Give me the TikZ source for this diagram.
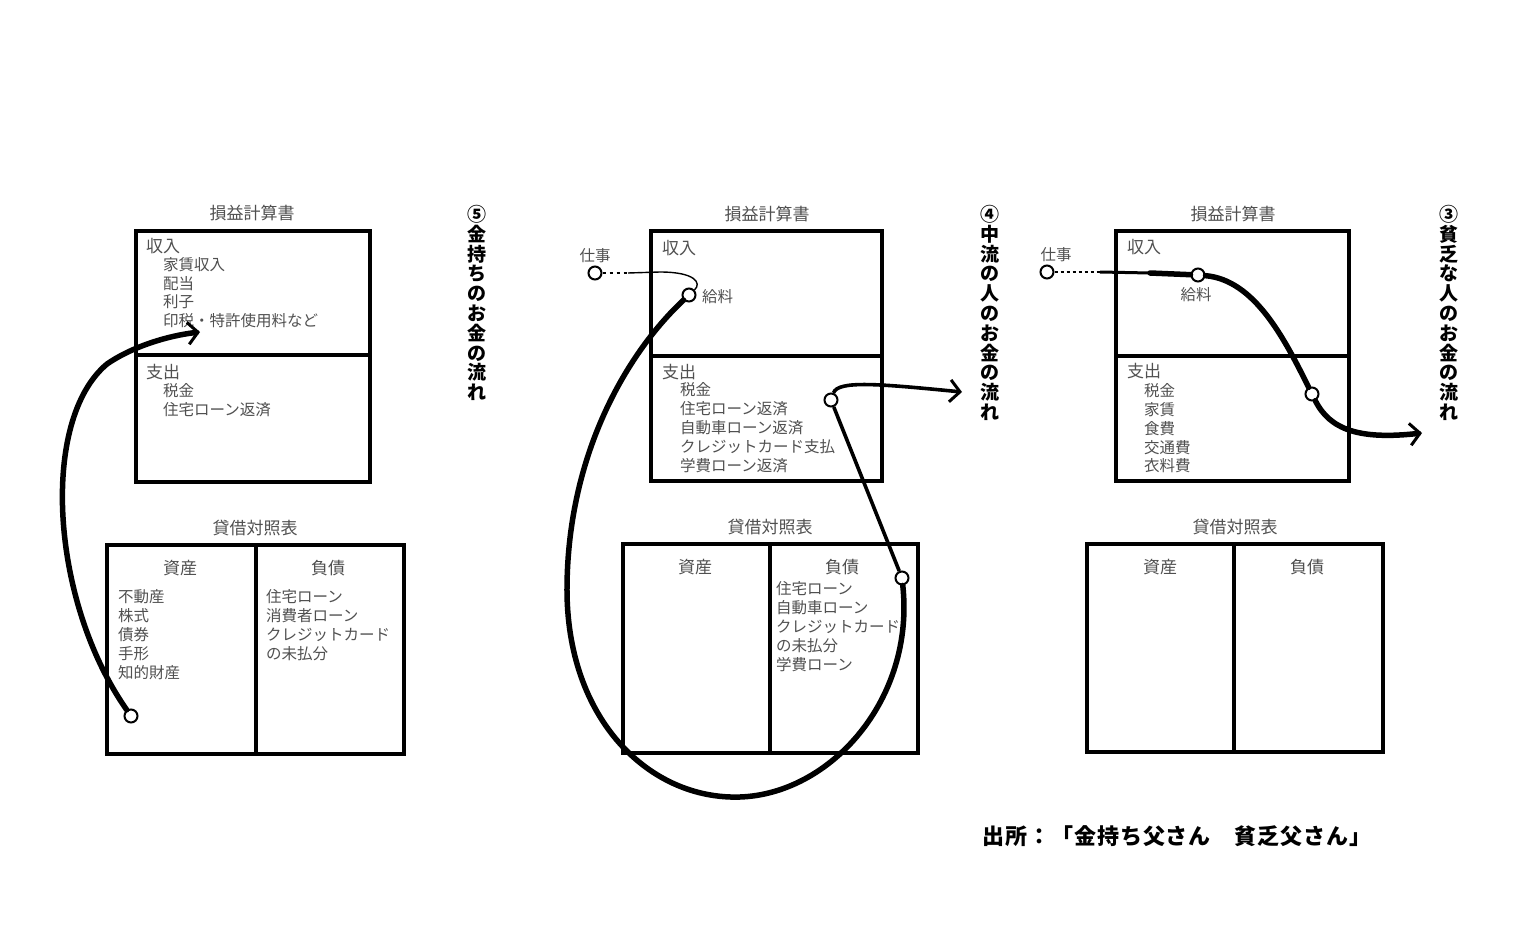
\documentclass[tikz,border=0pt]{standalone}
\usepackage{fontspec}
\setmainfont{Noto Sans CJK JP}
\newfontfamily\srcfont[LetterSpace=4]{Noto Sans CJK JP}
\usetikzlibrary{arrows.meta}
\definecolor{inkgray}{HTML}{505050}
\tikzset{
	boxline/.style={line width=3.2pt},
	item/.style={anchor=west, inner sep=0, text=inkgray, font=\fontsize{15.5}{16}\selectfont},
	cat/.style={item, font=\fontsize{17}{17}\selectfont},
	head/.style={inner sep=0, text=inkgray, font=\fontsize{17}{17}\selectfont},
	ring/.style={circle, draw, fill=white, line width=2pt, minimum size=13pt, inner sep=0},
	flow/.style={line width=5.5pt, line cap=round},
	thinflow/.style={line width=1.4pt},
	flowtip/.style={-{Straight Barb[length=10pt,width=22pt,line width=3pt]}},
	vtitle/.style={anchor=north, align=center, inner sep=0, font=\fontsize{19}{19.8}\selectfont\bfseries}
}
\begin{document}
\begin{tikzpicture}[x=1pt,y=-1pt]
		\useasboundingbox (0,0) rectangle (1535,942);
		
		% rich
		\node[head] (is5) at (252,213) {損益計算書};
		\draw[boxline] (136,231) rectangle (370,482);
		\draw[boxline] (136,355) -- (370,355);
		\node[cat] (inc5) at (146,246) {収入};
		\foreach \txt [count=\i] in {家賃収入,配当,利子,印税・特許使用料など}
			\node[item] (inc5-\i) at (163,{246+18.6*\i}) {\txt};
		\node[cat] (exp5) at (146,372) {支出};
		\foreach \txt [count=\i] in {税金,住宅ローン返済}
			\node[item] (exp5-\i) at (163,{372+19*\i}) {\txt};
		
		\node[head] (bs5) at (255,528) {貸借対照表};
		\draw[boxline] (107,545) rectangle (404,754);
		\draw[boxline] (256,545) -- (256,754);
		\node[head] (as5) at (180,568) {資産};
		\node[head] (li5) at (328,568) {負債};
		\foreach \txt [count=\i] in {不動産,株式,債券,手形,知的財産}
			\node[item] (as5-\i) at (118,{578+19*\i}) {\txt};
		\foreach \txt [count=\i] in {住宅ローン,消費者ローン,クレジットカード,の未払分}
			\node[item] (li5-\i) at (266,{578+19*\i}) {\txt};
		
		\node[vtitle] (t5) at (477,205) {⑤\\金\\持\\ち\\の\\お\\金\\の\\流\\れ};
		
		\node[ring] (a5) at (131,716) {};
		\coordinate (a5e) at (200,332);
		\draw[flow, flowtip] (a5) .. controls (50,600) and (40,420) .. (107,364) .. controls (130,348) and (165,336) .. (a5e);
		
		% middle
		\node[head] (is4) at (767,214) {損益計算書};
		\draw[boxline] (651,231) rectangle (882,481);
		\draw[boxline] (651,356) -- (882,356);
		\node[cat] (inc4) at (662,248) {収入};
		\node[cat] (exp4) at (662,372) {支出};
		\foreach \txt [count=\i] in {税金,住宅ローン返済,自動車ローン返済,クレジットカード支払,学費ローン返済}
			\node[item] (exp4-\i) at (680,{371+19*\i}) {\txt};
		
		\node[head] (bs4) at (770,527) {貸借対照表};
		\draw[boxline] (623,544) rectangle (918,753);
		\draw[boxline] (770,544) -- (770,753);
		\node[head] (as4) at (695,567) {資産};
		\node[head] (li4) at (842,567) {負債};
		\foreach \txt [count=\i] in {住宅ローン,自動車ローン,クレジットカード,の未払分,学費ローン}
			\node[item] (li4-\i) at (776,{570+19*\i}) {\txt};
		
		\node[vtitle] (t4) at (990,205) {④\\中\\流\\の\\人\\の\\お\\金\\の\\流\\れ};
		
		\node[ring] (job4) at (595,273) {};
		\node[item, anchor=south] (job4l) at (595,263) {仕事};
		\node[ring] (pay4) at (689,295) {};
		\node[item] (pay4l) at (702,297) {給料};
		\node[ring] (debt4) at (902,578) {};
		\node[ring] (out4) at (831,400) {};
		\coordinate (job4c) at (628,273);
		\coordinate (out4e) at (962,392);
		\draw[thinflow, dash pattern=on 3pt off 4pt] (job4) -- (job4c);
		\draw[thinflow] (job4c) -- (660,272) .. controls (695,272) and (702,283) .. (pay4);
		\draw[flow] (pay4) .. controls (630,350) and (568,450) .. (567,587) .. controls (566,720) and (650,800) .. (740,797) .. controls (830,794) and (915,700) .. (debt4);
		\draw[line width=3.6pt] (debt4) -- (out4);
		\draw[line width=3.6pt, flowtip] (out4) .. controls (838,380) and (880,384) .. (out4e);
		
		% poor
		\node[head] (is3) at (1233,214) {損益計算書};
		\draw[boxline] (1116,231) rectangle (1349,481);
		\draw[boxline] (1116,356) -- (1349,356);
		\node[cat] (inc3) at (1127,247) {収入};
		\node[cat] (exp3) at (1127,371) {支出};
		\foreach \txt [count=\i] in {税金,家賃,食費,交通費,衣料費}
			\node[item] (exp3-\i) at (1144,{372+18.8*\i}) {\txt};
		
		\node[head] (bs3) at (1235,527) {貸借対照表};
		\draw[boxline] (1087,544) rectangle (1383,752);
		\draw[boxline] (1234,544) -- (1234,752);
		\node[head] (as3) at (1160,567) {資産};
		\node[head] (li3) at (1307,567) {負債};
		
		\node[vtitle] (t3) at (1449,205) {③\\貧\\乏\\な\\人\\の\\お\\金\\の\\流\\れ};
		
		\node[ring] (job3) at (1047,272) {};
		\node[item, anchor=south] (job3l) at (1056,262) {仕事};
		\node[ring] (pay3) at (1198,275) {};
		\node[item, anchor=north] (pay3l) at (1196,287) {給料};
		\node[ring] (mid3) at (1312,394) {};
		\coordinate (job3c) at (1100,272);
		\coordinate (out3e) at (1422,433);
		\draw[thinflow, dash pattern=on 3pt off 3pt] (job3) -- (job3c);
		\draw[line width=3pt] (job3c) -- (1150,273);
		\draw[flow] (1150,273) -- (pay3);
		\draw[flow] (pay3) .. controls (1255,280) and (1285,340) .. (mid3);
		\draw[flow, flowtip] (mid3) .. controls (1330,430) and (1360,440) .. (out3e);
		
		\node[font=\srcfont\fontsize{22}{22}\selectfont\bfseries] (src) at (1177,836) {出所：「金持ち父さん　貧乏父さん」};
\end{tikzpicture}
\end{document}
